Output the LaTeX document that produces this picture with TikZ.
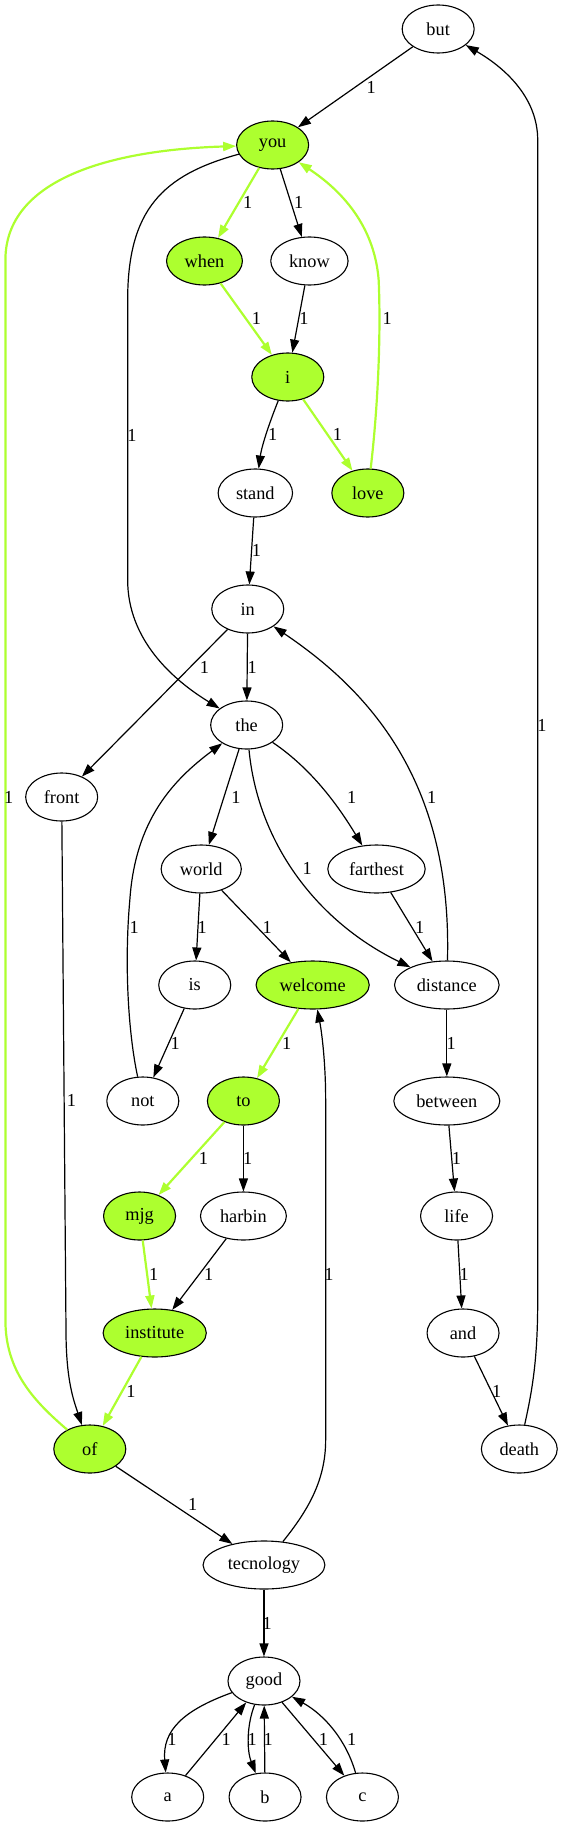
\documentclass[tikz,border=0pt]{standalone}
\usepackage{fontspec}
\setmainfont{Liberation Serif}
\usetikzlibrary{shapes.geometric}
\usetikzlibrary{arrows.meta}
\definecolor{hotgreen}{HTML}{ADFF2F}
\tikzset{
  word/.style={ellipse, draw, line width=1.1pt, minimum width=72pt, minimum height=48pt,
    inner xsep=7pt, inner ysep=2pt, font=\fontsize{18.3}{20}\selectfont},
  hot/.style={word, fill=hotgreen},
  link/.style={line width=1.2pt, -{Triangle[length=13pt,width=9pt]}},
  hotlink/.style={link, draw=hotgreen, line width=2.2pt},
  lbl/.style={inner sep=0pt, font=\fontsize{18.3}{20}\selectfont}
}
\begin{document}
\begin{tikzpicture}[x=1.0819pt,y=-1pt]
        \useasboundingbox (0,0) rectangle (522.23,1827);
        %
        \node[word] (but) at (405,29) {but};
        \node[hot] (you) at (252,145) {you};
        \node[hot] (when) at (189,261) {when};
        \node[word] (know) at (286,261) {know};
        \node[hot] (i) at (266,377) {i};
        \node[word] (stand) at (236,493) {stand};
        \node[hot] (love) at (340,493) {love};
        \node[word] (in) at (229,609) {in};
        \node[word] (the) at (228,725) {the};
        \node[word] (front) at (57,797) {front};
        \node[word] (world) at (186,869) {world};
        \node[word] (farthest) at (348,869) {farthest};
        \node[word] (is) at (180,985) {is};
        \node[hot] (welcome) at (289,985) {welcome};
        \node[word] (distance) at (413,985) {distance};
        \node[word] (not) at (132,1101) {not};
        \node[hot] (to) at (225,1101) {to};
        \node[word] (between) at (413,1101) {between};
        \node[hot] (mjg) at (129,1216) {mjg};
        \node[word] (harbin) at (225,1216) {harbin};
        \node[word] (life) at (422,1216) {life};
        \node[hot] (institute) at (143,1333) {institute};
        \node[word] (and) at (428,1333) {and};
        \node[hot] (of) at (83,1449) {of};
        \node[word] (death) at (480,1449) {death};
        \node[word] (tecnology) at (244,1565) {tecnology};
        \node[word] (good) at (244,1681) {good};
        \node[word] (a) at (155,1797) {a};
        \node[word] (b) at (245,1797) {b};
        \node[word] (c) at (335,1797) {c};
        %
        \draw[link] (but) -- (you) node[lbl] at (343,87) {1};
        \draw[hotlink] (you) -- (when) node[lbl] at (229,202) {1};
        \draw[link] (you) -- (know) node[lbl] at (276,202) {1};
        \draw[link] (you) .. controls (150,175) and (118,210) .. (118,300)
          -- (118,580) .. controls (118,640) and (160,680) .. (the) node[lbl] at (122,435) {1};
        \draw[hotlink] (when) -- (i) node[lbl] at (237,318) {1};
        \draw[link] (know) -- (i) node[lbl] at (281,318) {1};
        \draw[hotlink] (love) .. controls (350,400) and (352,330) .. (350,280)
          .. controls (346,225) and (315,190) .. (you) node[lbl] at (358,318) {1};
        \draw[link] (i) .. controls (250,420) and (242,445) .. (stand) node[lbl] at (252,434) {1};
        \draw[hotlink] (i) -- (love) node[lbl] at (312,434) {1};
        \draw[link] (stand) -- (in) node[lbl] at (237,550) {1};
        \draw[link] (in) -- (the) node[lbl] at (233,667) {1};
        \draw[link] (in) -- (front) node[lbl] at (189,667) {1};
        \draw[link] (distance) .. controls (418,780) and (340,690) .. (in) node[lbl] at (399,797) {1};
        \draw[link] (death) .. controls (492,1390) and (497,1360) .. (497,1300)
          -- (497,140) .. controls (497,100) and (470,70) .. (but) node[lbl] at (501,725) {1};
        %
        \draw[link] (the) -- (world) node[lbl] at (218,797) {1};
        \draw[link] (the) .. controls (290,770) and (315,810) .. (farthest) node[lbl] at (325,797) {1};
        \draw[link] (the) .. controls (238,840) and (290,920) .. (distance) node[lbl] at (284,868) {1};
        \draw[link] (not) .. controls (118,1030) and (115,960) .. (120,900)
          .. controls (125,820) and (160,780) .. (the) node[lbl] at (124,927) {1};
        \draw[link] (world) -- (is) node[lbl] at (187,927) {1};
        \draw[link] (world) -- (welcome) node[lbl] at (247,927) {1};
        \draw[link] (farthest) -- (distance) node[lbl] at (388,927) {1};
        \draw[link] (is) -- (not) node[lbl] at (162,1043) {1};
        \draw[hotlink] (welcome) -- (to) node[lbl] at (265,1043) {1};
        \draw[link] (distance) -- (between) node[lbl] at (417,1043) {1};
        \draw[link] (front) -- (61,1330) .. controls (61,1380) and (68,1400) .. (of) node[lbl] at (66,1100) {1};
        %
        \draw[hotlink] (to) -- (mjg) node[lbl] at (188,1158) {1};
        \draw[link] (to) -- (harbin) node[lbl] at (229,1158) {1};
        \draw[link] (between) -- (life) node[lbl] at (422,1158) {1};
        \draw[link] (tecnology) .. controls (285,1510) and (301,1480) .. (301,1440)
          -- (301,1100) .. controls (301,1060) and (297,1030) .. (welcome) node[lbl] at (304,1274) {1};
        \draw[hotlink] (mjg) -- (institute) node[lbl] at (142,1274) {1};
        \draw[link] (harbin) -- (institute) node[lbl] at (193,1274) {1};
        \draw[link] (life) -- (and) node[lbl] at (429,1274) {1};
        \draw[hotlink] (institute) -- (of) node[lbl] at (121,1391) {1};
        \draw[link] (and) -- (death) node[lbl] at (459,1391) {1};
        \draw[hotlink] (of) .. controls (30,1400) and (5,1370) .. (5,1320)
          -- (5,260) .. controls (5,180) and (100,150) .. (you) node[lbl] at (8,797) {1};
        \draw[link] (of) -- (tecnology) node[lbl] at (178,1504) {1};
        %
        \draw[link] (tecnology) -- (good) node[lbl] at (247,1623) {1};
        \draw[link] (good) .. controls (170,1710) and (150,1730) .. (a) node[lbl] at (159,1739) {1};
        \draw[link] (a) -- (good) node[lbl] at (209,1739) {1};
        \draw[link] (good) .. controls (228,1725) and (228,1750) .. (b) node[lbl] at (233,1739) {1};
        \draw[link] (b) -- (good) node[lbl] at (248,1739) {1};
        \draw[link] (good) -- (c) node[lbl] at (299,1739) {1};
        \draw[link] (c) .. controls (320,1740) and (300,1715) .. (good) node[lbl] at (325,1739) {1};
      \end{tikzpicture}
\end{document}
